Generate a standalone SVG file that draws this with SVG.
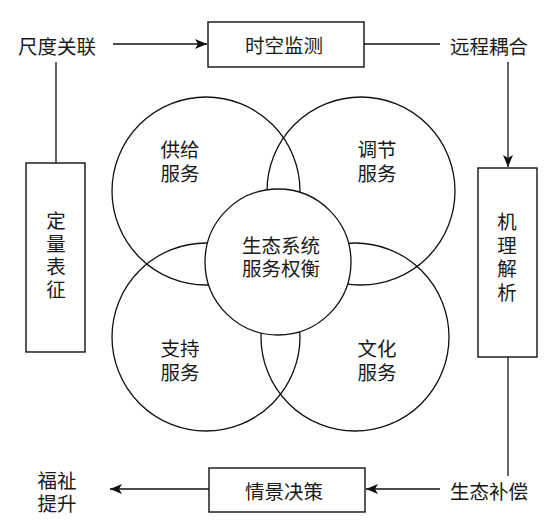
<svg xmlns="http://www.w3.org/2000/svg" width="553" height="520" viewBox="0 0 553 520">
<style>
text{font-family:"Liberation Sans","Noto Sans CJK SC",sans-serif;font-size:19.5px;fill:#1a1a1a;text-anchor:middle;dominant-baseline:central}
.box{fill:#fff;stroke:#111;stroke-width:1.4}
.circ{fill:none;stroke:#111;stroke-width:1.3}
.ctr{fill:#fff;stroke:#111;stroke-width:1.3}
.ln{fill:none;stroke:#111;stroke-width:1.3}
</style>
<defs>
<marker id="ah" viewBox="0 0 12 10" refX="12" refY="5" markerWidth="12" markerHeight="10" markerUnits="userSpaceOnUse" orient="auto">
<path d="M0,0 L12,5 L0,10 L3,5 Z" fill="#111"/>
</marker>
</defs>
<rect width="553" height="520" fill="#fff"/>
<g id="connectors">
<line class="ln" x1="113" y1="44" x2="207" y2="44" marker-end="url(#ah)"/>
<line class="ln" x1="364" y1="44" x2="440" y2="44"/>
<line class="ln" x1="508" y1="62" x2="508" y2="167" marker-end="url(#ah)"/>
<line class="ln" x1="56" y1="62" x2="56" y2="163"/>
<line class="ln" x1="508" y1="357" x2="508" y2="476"/>
<line class="ln" x1="440" y1="489" x2="366" y2="489" marker-end="url(#ah)"/>
<line class="ln" x1="209" y1="489" x2="110" y2="489" marker-end="url(#ah)"/>
</g>
<g id="services">
<circle class="circ" cx="206" cy="191" r="94"/>
<circle class="circ" cx="361" cy="191" r="94"/>
<circle class="circ" cx="206" cy="337" r="94"/>
<circle class="circ" cx="355" cy="337" r="94"/>
</g>
<g id="n-supply"><text x="180" y="150">供给<tspan x="180" dy="24">服务</tspan></text></g>
<g id="n-regulate"><text x="377" y="150">调节<tspan x="377" dy="24">服务</tspan></text></g>
<g id="n-support"><text x="180" y="349">支持<tspan x="180" dy="24">服务</tspan></text></g>
<g id="n-culture"><text x="377" y="349">文化<tspan x="377" dy="24">服务</tspan></text></g>
<g id="n-center">
<circle class="ctr" cx="278" cy="262" r="73"/>
<text x="281" y="246">生态系统<tspan x="281" dy="23">服务权衡</tspan></text>
</g>
<g id="n-scale"><text x="57" y="47">尺度关联</text></g>
<g id="n-monitor"><rect class="box" x="208" y="22" width="156" height="45"/><text x="284" y="46">时空监测</text></g>
<g id="n-coupling"><text x="489" y="47">远程耦合</text></g>
<g id="n-quant"><rect class="box" x="26" y="163" width="59" height="189"/>
<text x="56" y="221">定<tspan x="56" dy="23">量</tspan><tspan x="56" dy="23">表</tspan><tspan x="56" dy="23">征</tspan></text></g>
<g id="n-mech"><rect class="box" x="478" y="168" width="59" height="189"/>
<text x="507" y="222">机<tspan x="507" dy="23.5">理</tspan><tspan x="507" dy="23.5">解</tspan><tspan x="507" dy="23.5">析</tspan></text></g>
<g id="n-comp"><text x="489" y="492">生态补偿</text></g>
<g id="n-scenario"><rect class="box" x="209" y="468" width="156" height="44"/><text x="284" y="492">情景决策</text></g>
<g id="n-welfare"><text x="57" y="481">福祉<tspan x="57" dy="23">提升</tspan></text></g>
</svg>
